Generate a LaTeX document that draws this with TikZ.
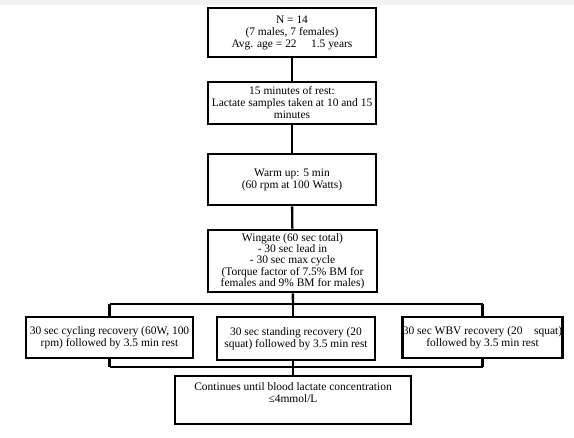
\documentclass[tikz,border=0pt]{standalone}
\usepackage{fontspec}
\setmainfont{Liberation Serif}
\usetikzlibrary{backgrounds}

\tikzset{
    stage/.style={draw=black, line width=2pt, fill=white, align=center,
        inner sep=0.5pt, font=\fontsize{8.6}{9}\selectfont},
    link/.style={line width=1.8pt, black}
}

\begin{document}
\begin{tikzpicture}[x=0.75pt, y=-0.75pt]
    % page area, with the grey edge of the screenshot
    \useasboundingbox (0,0) rectangle (574,437);
    \fill[gray!10] (0,0) rectangle (574,5);

    % 1. Main column
    \node[stage, minimum width=0.75*168pt, minimum height=0.75*49pt] (sample) at (292,32.5)
        {N = 14\\(7 males, 7 females)\\Avg. age = 22\quad\ 1.5 years};
    \node[stage, minimum width=0.75*168pt, minimum height=0.75*42pt] (rest) at (292,103)
        {15 minutes of rest:\\Lactate samples taken at 10 and 15\\minutes};
    \node[stage, minimum width=0.75*168pt, minimum height=0.75*51pt] (warmup) at (292,179.5)
        {Warm up: 5 min\\(60 rpm at 100 Watts)};
    \node[stage, minimum width=0.75*169pt, minimum height=0.75*62pt,
        font=\fontsize{8.6}{8.5}\selectfont] (wingate) at (292.5,261)
        {Wingate (60 sec total)\\- 30 sec lead in\\- 30 sec max cycle\\(Torque factor of 7.5\% BM for\\females and 9\% BM for males)};

    % 2. The three recovery conditions
    \node[stage, minimum width=0.75*167pt, minimum height=0.75*41pt] (cycling) at (109.5,337.5)
        {30 sec cycling recovery (60W, 100\\rpm) followed by 3.5 min rest};
    \node[stage, minimum width=0.75*158pt, minimum height=0.75*43pt] (standing) at (296,338.5)
        {30 sec standing recovery (20\\squat) followed by 3.5 min rest};
    \node[stage, minimum width=0.75*159pt, minimum height=0.75*41pt] (wbv) at (482.5,337.5)
        {30 sec WBV recovery (20\quad squat)\\followed by 3.5 min rest};

    % 3. End condition
    \node[stage, minimum width=0.75*236pt, minimum height=0.75*48pt] (finish) at (293,400)
        {Continues until blood lactate concentration\\≤4mmol/L\\[2pt]};

    % branch and merge lines
    \coordinate (split) at (293,304);
    \coordinate (merge) at (293,367);

    \begin{scope}[on background layer]
        \draw[link] (sample) -- (rest);
        \draw[link] (rest) -- (warmup);
        \draw[link] (warmup) -- (wingate);
        \draw[link] (wingate) -- (split);

        % split to the three conditions
        \draw[link] (split -| cycling) -- (split -| wbv);
        \draw[link] (split -| cycling) -- (merge -| cycling);
        \draw[link] (split) -- (merge);
        \draw[link] (split -| wbv) -- (merge -| wbv);

        % merge to the end box
        \draw[link] (merge -| cycling) -- (merge -| wbv);
        \draw[link] (merge) -- (finish);
    \end{scope}
\end{tikzpicture}
\end{document}
